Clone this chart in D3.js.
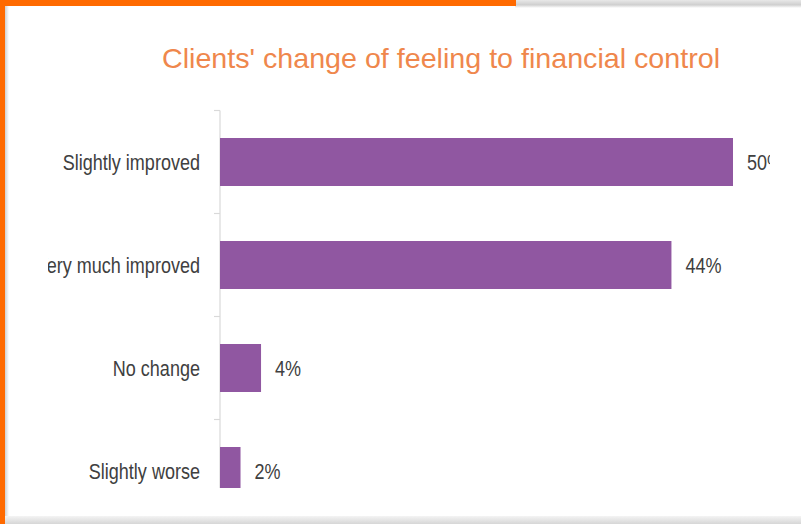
<!DOCTYPE html>
<html>
<head>
<meta charset="utf-8">
<script src="https://cdn.jsdelivr.net/npm/d3@7"></script>
<style>
  html, body { margin: 0; padding: 0; background: #ffffff; }
  svg { display: block; }
</style>
</head>
<body>
<script>
// Survey responses: how clients' feeling of financial control changed
const categories = ["Slightly improved", "Very much improved", "No change", "Slightly worse"];
const values = [50, 44, 4, 2];
const valueLabels = ["50%", "44%", "4%", "2%"];
const chartTitle = "Clients' change of feeling to financial control";

const W = 801, H = 524;
const svg = d3.select("body").append("svg").attr("width", W).attr("height", H);

const defs = svg.append("defs");
const bottomShade = defs.append("linearGradient").attr("id", "bottomShade")
  .attr("x1", 0).attr("y1", 0).attr("x2", 0).attr("y2", 1);
bottomShade.append("stop").attr("offset", "0%").attr("stop-color", "#f4f4f4");
bottomShade.append("stop").attr("offset", "100%").attr("stop-color", "#d6d6d6");
const sideShade = defs.append("linearGradient").attr("id", "sideShade")
  .attr("x1", 0).attr("y1", 0).attr("x2", 1).attr("y2", 0);
sideShade.append("stop").attr("offset", "0%").attr("stop-color", "#d0d0d0");
sideShade.append("stop").attr("offset", "100%").attr("stop-color", "#ffffff");
const topShade = defs.append("linearGradient").attr("id", "topShade")
  .attr("x1", 0).attr("y1", 0).attr("x2", 0).attr("y2", 1);
topShade.append("stop").attr("offset", "0%").attr("stop-color", "#e8e8e8");
topShade.append("stop").attr("offset", "60%").attr("stop-color", "#cfcfcf");
topShade.append("stop").attr("offset", "100%").attr("stop-color", "#ffffff");

defs.append("clipPath").attr("id", "plotClip")
  .append("rect").attr("x", 48).attr("y", 0).attr("width", 722).attr("height", 488);

// Frame: white sheet with an orange edge on the left and top
svg.append("rect").attr("width", W).attr("height", H).attr("fill", "#ffffff");
svg.append("rect").attr("x", 515).attr("y", 0).attr("width", W - 515).attr("height", 8).attr("fill", "url(#topShade)");
svg.append("rect").attr("x", 5).attr("y", 6).attr("width", 4).attr("height", H - 6).attr("fill", "url(#sideShade)");
svg.append("rect").attr("x", 0).attr("y", 516).attr("width", W).attr("height", 8).attr("fill", "url(#bottomShade)");
svg.append("rect").attr("x", 0).attr("y", 0).attr("width", 516).attr("height", 6).attr("fill", "#ff6a00");
svg.append("rect").attr("x", 0).attr("y", 0).attr("width", 5).attr("height", H).attr("fill", "#ff6a00");

// Title
svg.append("text")
  .attr("x", 441).attr("y", 68)
  .attr("text-anchor", "middle")
  .attr("font-family", "'Liberation Sans', Arial, sans-serif")
  .attr("font-size", 28)
  .attr("fill", "#ef874c")
  .attr("textLength", 558)
  .attr("lengthAdjust", "spacingAndGlyphs")
  .text(chartTitle);

// Scales
const x = d3.scaleLinear().domain([0, 50]).range([220, 733]);
const y = d3.scaleBand().domain(categories).range([110.5, 522.5])
  .paddingInner(0.534).paddingOuter(0.267);
const gap = (y.step() - y.bandwidth()) / 2;

const plot = svg.append("g").attr("clip-path", "url(#plotClip)");

// Category axis with ticks between categories
plot.append("line")
  .attr("x1", x(0)).attr("x2", x(0))
  .attr("y1", y(categories[0]) - gap).attr("y2", y.range()[1])
  .attr("stroke", "#d9d9d9").attr("stroke-width", 1.2);
plot.selectAll(".tick").data(categories).join("line")
  .attr("class", "tick")
  .attr("x1", x(0) - 6).attr("x2", x(0))
  .attr("y1", d => y(d) - gap).attr("y2", d => y(d) - gap)
  .attr("stroke", "#d9d9d9").attr("stroke-width", 1.2);

// Bars
plot.selectAll(".bar").data(values).join("rect")
  .attr("class", "bar")
  .attr("x", x(0))
  .attr("y", (d, i) => y(categories[i]))
  .attr("width", d => x(d) - x(0))
  .attr("height", y.bandwidth())
  .attr("fill", "#9057a1");

const squeeze = 0.82;

// Category labels
plot.selectAll(".cat").data(categories).join("text")
  .attr("class", "cat")
  .attr("transform", d => `translate(200,${y(d) + y.bandwidth() / 2 + 7.5}) scale(${squeeze},1)`)
  .attr("text-anchor", "end")
  .attr("font-family", "'Liberation Sans', Arial, sans-serif")
  .attr("font-size", 22)
  .attr("fill", "#404040")
  .text(d => d);

// Value labels
plot.selectAll(".val").data(values).join("text")
  .attr("class", "val")
  .attr("transform", (d, i) => `translate(${x(d) + 14},${y(categories[i]) + y.bandwidth() / 2 + 8}) scale(${squeeze},1)`)
  .attr("font-family", "'Liberation Sans', Arial, sans-serif")
  .attr("font-size", 22)
  .attr("fill", "#404040")
  .text((d, i) => valueLabels[i]);
</script>
</body>
</html>
